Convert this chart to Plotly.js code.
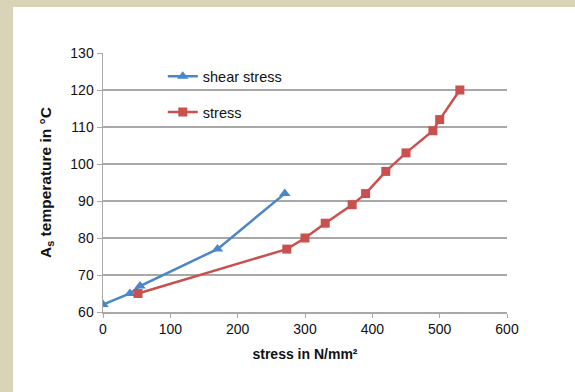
<!DOCTYPE html>
<html>
<head>
<meta charset="utf-8">
<script src="https://cdn.plot.ly/plotly-3.0.1.min.js"></script>
<style>
  html, body { margin:0; padding:0; width:575px; height:392px; overflow:hidden; background:#d9d3b8; }
  #white { position:absolute; left:13px; top:7px; width:562px; height:385px; background:#ffffff; }
  #chart { position:absolute; left:0; top:0; width:575px; height:392px; }
</style>
</head>
<body>
<div id="white"></div>
<div id="chart"></div>
<script>
const shearStress = [0, 40, 55, 170, 270];
const shearTemp = [62, 65, 67, 77, 92];
const stress = [52, 273, 300, 330, 370, 390, 420, 450, 490, 500, 530];
const stressTemp = [65, 77, 80, 84, 89, 92, 98, 103, 109, 112, 120];
const xTicks = [0, 100, 200, 300, 400, 500, 600];
const yTicks = [60, 70, 80, 90, 100, 110, 120, 130];

const traces = [
  { x: shearStress, y: shearTemp, name: 'shear stress', mode: 'lines+markers', legendgroup: 'a',
    line: { color: '#4a86c8', width: 2.5 }, marker: { symbol: 'triangle-up', size: 10, color: '#4a86c8' } },
  { x: stress, y: stressTemp, name: 'stress', mode: 'lines+markers', legendgroup: 'b',
    line: { color: '#c9504d', width: 2.5 }, marker: { symbol: 'square', size: 9, color: '#c9504d' } }
];

const FF = 'Liberation Sans, Arial, sans-serif';
const tickFont = { family: FF, size: 14, color: '#111' };
const layout = {
  width: 575, height: 392,
  margin: { l: 103, r: 68, t: 53, b: 80 },
  paper_bgcolor: 'rgba(0,0,0,0)', plot_bgcolor: 'rgba(0,0,0,0)',
  showlegend: true,
  legend: { x: 0.148, y: 0.972, xanchor: 'left', yanchor: 'top', bgcolor: 'rgba(0,0,0,0)',
            tracegroupgap: 14, font: { family: FF, size: 14.5, color: '#111' } },
  xaxis: {
    range: [0, 600], tickvals: xTicks, ticktext: xTicks.map(String),
    showgrid: false, zeroline: false, showline: true, linecolor: '#a8a8a8', linewidth: 1.5,
    ticks: 'outside', ticklen: 4, tickcolor: '#a8a8a8', tickfont: tickFont,
    title: { text: '<b>stress in N/mm²</b>', font: { family: FF, size: 14, color: '#111' }, standoff: 13 }
  },
  yaxis: {
    range: [60, 130], tickvals: yTicks, ticktext: yTicks.map(String),
    showgrid: true, gridcolor: '#a8a8a8', gridwidth: 1.5, zeroline: false,
    showline: true, linecolor: '#a8a8a8', linewidth: 1.5,
    ticks: 'outside', ticklen: 5, tickcolor: '#a8a8a8', tickfont: tickFont,
    title: { text: '<b>A<sub>s</sub> temperature in °C</b>', font: { family: FF, size: 15.5, color: '#111' }, standoff: 15 }
  }
};

Plotly.newPlot('chart', traces, layout, { displayModeBar: false, staticPlot: true });
</script>
</body>
</html>
